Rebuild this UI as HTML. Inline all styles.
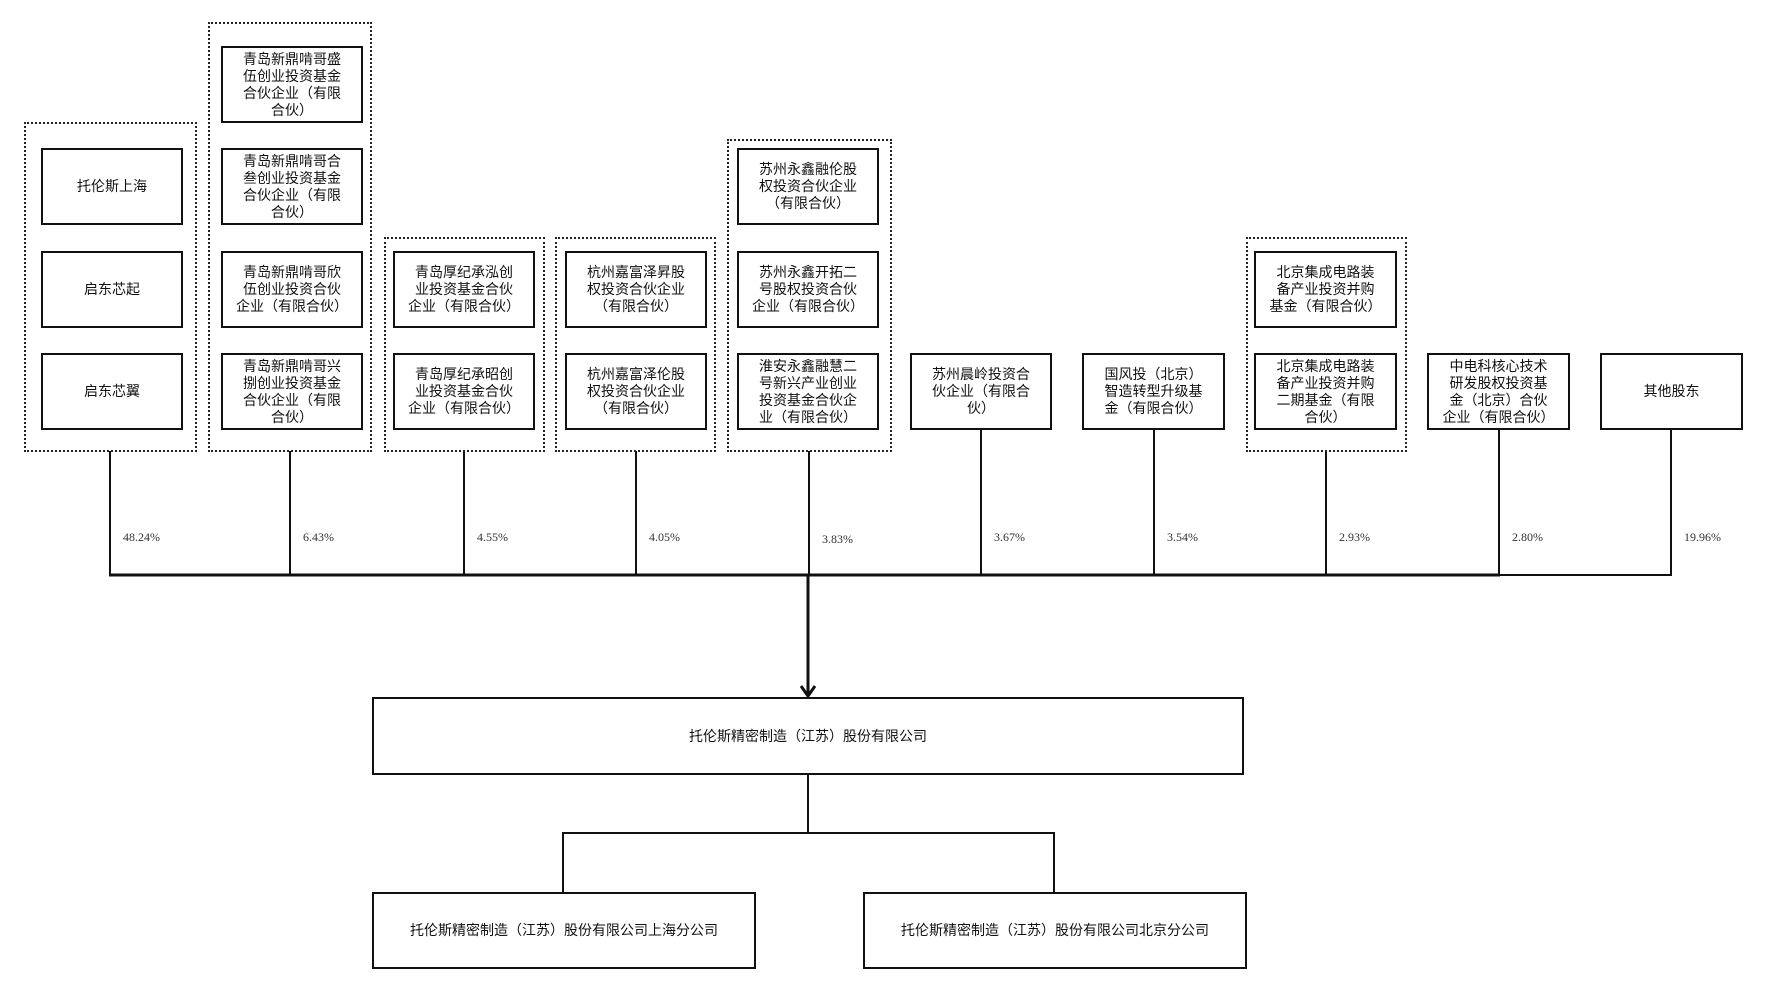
<!DOCTYPE html>
<html><head><meta charset="utf-8"><style>
body{margin:0;width:1786px;height:996px;background:#fff;position:relative;overflow:hidden;font-family:"Liberation Sans","Noto Sans CJK SC",sans-serif;}
.g{position:absolute;border:2px dotted #222;box-sizing:border-box;}
.b{position:absolute;border:2px solid #111;box-sizing:border-box;display:flex;align-items:center;justify-content:center;text-align:center;font-size:14px;line-height:17px;color:#111;background:#fff;}
.p{position:absolute;font-family:"Liberation Serif",serif;font-size:12px;color:#333;}
svg{position:absolute;left:0;top:0;}
</style></head><body>
<svg width="1786" height="996">
<g stroke="#111" stroke-width="2" fill="none">
<line x1="110" y1="451" x2="110" y2="575"/>
<line x1="290" y1="451" x2="290" y2="575"/>
<line x1="464" y1="451" x2="464" y2="575"/>
<line x1="636" y1="451" x2="636" y2="575"/>
<line x1="809" y1="451" x2="809" y2="575"/>
<line x1="981" y1="429" x2="981" y2="575"/>
<line x1="1154" y1="429" x2="1154" y2="575"/>
<line x1="1326" y1="451" x2="1326" y2="575"/>
<line x1="1499" y1="429" x2="1499" y2="575"/>
<line x1="1671" y1="429" x2="1671" y2="575"/>
<line x1="1499" y1="575" x2="1672" y2="575"/>
<line x1="808" y1="775" x2="808" y2="833"/>
<line x1="563" y1="833" x2="1054" y2="833"/>
<line x1="563" y1="832" x2="563" y2="892"/>
<line x1="1054" y1="832" x2="1054" y2="892"/>
</g>
<line x1="109" y1="575" x2="1500" y2="575" stroke="#111" stroke-width="3"/>
<line x1="808" y1="575" x2="808" y2="696" stroke="#111" stroke-width="3"/>
<polyline points="801,686 808,696 815,686" stroke="#111" stroke-width="3" fill="none"/>
</svg>

<div class="g" style="left:24px;top:122px;width:173px;height:330px"></div>
<div class="b" style="left:41px;top:148px;width:142px;height:77px">托伦斯上海</div>
<div class="b" style="left:41px;top:251px;width:142px;height:77px">启东芯起</div>
<div class="b" style="left:41px;top:353px;width:142px;height:77px">启东芯翼</div>

<div class="g" style="left:208px;top:22px;width:164px;height:430px"></div>
<div class="b" style="left:221px;top:46px;width:142px;height:77px">青岛新鼎啃哥盛<br>伍创业投资基金<br>合伙企业（有限<br>合伙）</div>
<div class="b" style="left:221px;top:148px;width:142px;height:77px">青岛新鼎啃哥合<br>叁创业投资基金<br>合伙企业（有限<br>合伙）</div>
<div class="b" style="left:221px;top:251px;width:142px;height:77px">青岛新鼎啃哥欣<br>伍创业投资合伙<br>企业（有限合伙）</div>
<div class="b" style="left:221px;top:353px;width:142px;height:77px">青岛新鼎啃哥兴<br>捌创业投资基金<br>合伙企业（有限<br>合伙）</div>

<div class="g" style="left:384px;top:237px;width:161px;height:215px"></div>
<div class="b" style="left:393px;top:251px;width:142px;height:77px">青岛厚纪承泓创<br>业投资基金合伙<br>企业（有限合伙）</div>
<div class="b" style="left:393px;top:353px;width:142px;height:77px">青岛厚纪承昭创<br>业投资基金合伙<br>企业（有限合伙）</div>

<div class="g" style="left:555px;top:237px;width:161px;height:215px"></div>
<div class="b" style="left:565px;top:251px;width:142px;height:77px">杭州嘉富泽昇股<br>权投资合伙企业<br>（有限合伙）</div>
<div class="b" style="left:565px;top:353px;width:142px;height:77px">杭州嘉富泽伦股<br>权投资合伙企业<br>（有限合伙）</div>

<div class="g" style="left:727px;top:139px;width:165px;height:313px"></div>
<div class="b" style="left:737px;top:148px;width:142px;height:77px">苏州永鑫融伦股<br>权投资合伙企业<br>（有限合伙）</div>
<div class="b" style="left:737px;top:251px;width:142px;height:77px">苏州永鑫开拓二<br>号股权投资合伙<br>企业（有限合伙）</div>
<div class="b" style="left:737px;top:353px;width:142px;height:77px">淮安永鑫融慧二<br>号新兴产业创业<br>投资基金合伙企<br>业（有限合伙）</div>

<div class="b" style="left:910px;top:353px;width:142px;height:77px">苏州晨岭投资合<br>伙企业（有限合<br>伙）</div>
<div class="b" style="left:1082px;top:353px;width:143px;height:77px">国风投（北京）<br>智造转型升级基<br>金（有限合伙）</div>

<div class="g" style="left:1246px;top:237px;width:161px;height:215px"></div>
<div class="b" style="left:1254px;top:251px;width:143px;height:77px">北京集成电路装<br>备产业投资并购<br>基金（有限合伙）</div>
<div class="b" style="left:1254px;top:353px;width:143px;height:77px">北京集成电路装<br>备产业投资并购<br>二期基金（有限<br>合伙）</div>

<div class="b" style="left:1427px;top:353px;width:143px;height:77px">中电科核心技术<br>研发股权投资基<br>金（北京）合伙<br>企业（有限合伙）</div>
<div class="b" style="left:1600px;top:353px;width:143px;height:77px">其他股东</div>

<div class="p" style="left:123px;top:530px">48.24%</div>
<div class="p" style="left:303px;top:530px">6.43%</div>
<div class="p" style="left:477px;top:530px">4.55%</div>
<div class="p" style="left:649px;top:530px">4.05%</div>
<div class="p" style="left:822px;top:532px">3.83%</div>
<div class="p" style="left:994px;top:530px">3.67%</div>
<div class="p" style="left:1167px;top:530px">3.54%</div>
<div class="p" style="left:1339px;top:530px">2.93%</div>
<div class="p" style="left:1512px;top:530px">2.80%</div>
<div class="p" style="left:1684px;top:530px">19.96%</div>

<div class="b" style="left:372px;top:697px;width:872px;height:78px">托伦斯精密制造（江苏）股份有限公司</div>
<div class="b" style="left:372px;top:892px;width:384px;height:77px">托伦斯精密制造（江苏）股份有限公司上海分公司</div>
<div class="b" style="left:863px;top:892px;width:384px;height:77px">托伦斯精密制造（江苏）股份有限公司北京分公司</div>
</body></html>
